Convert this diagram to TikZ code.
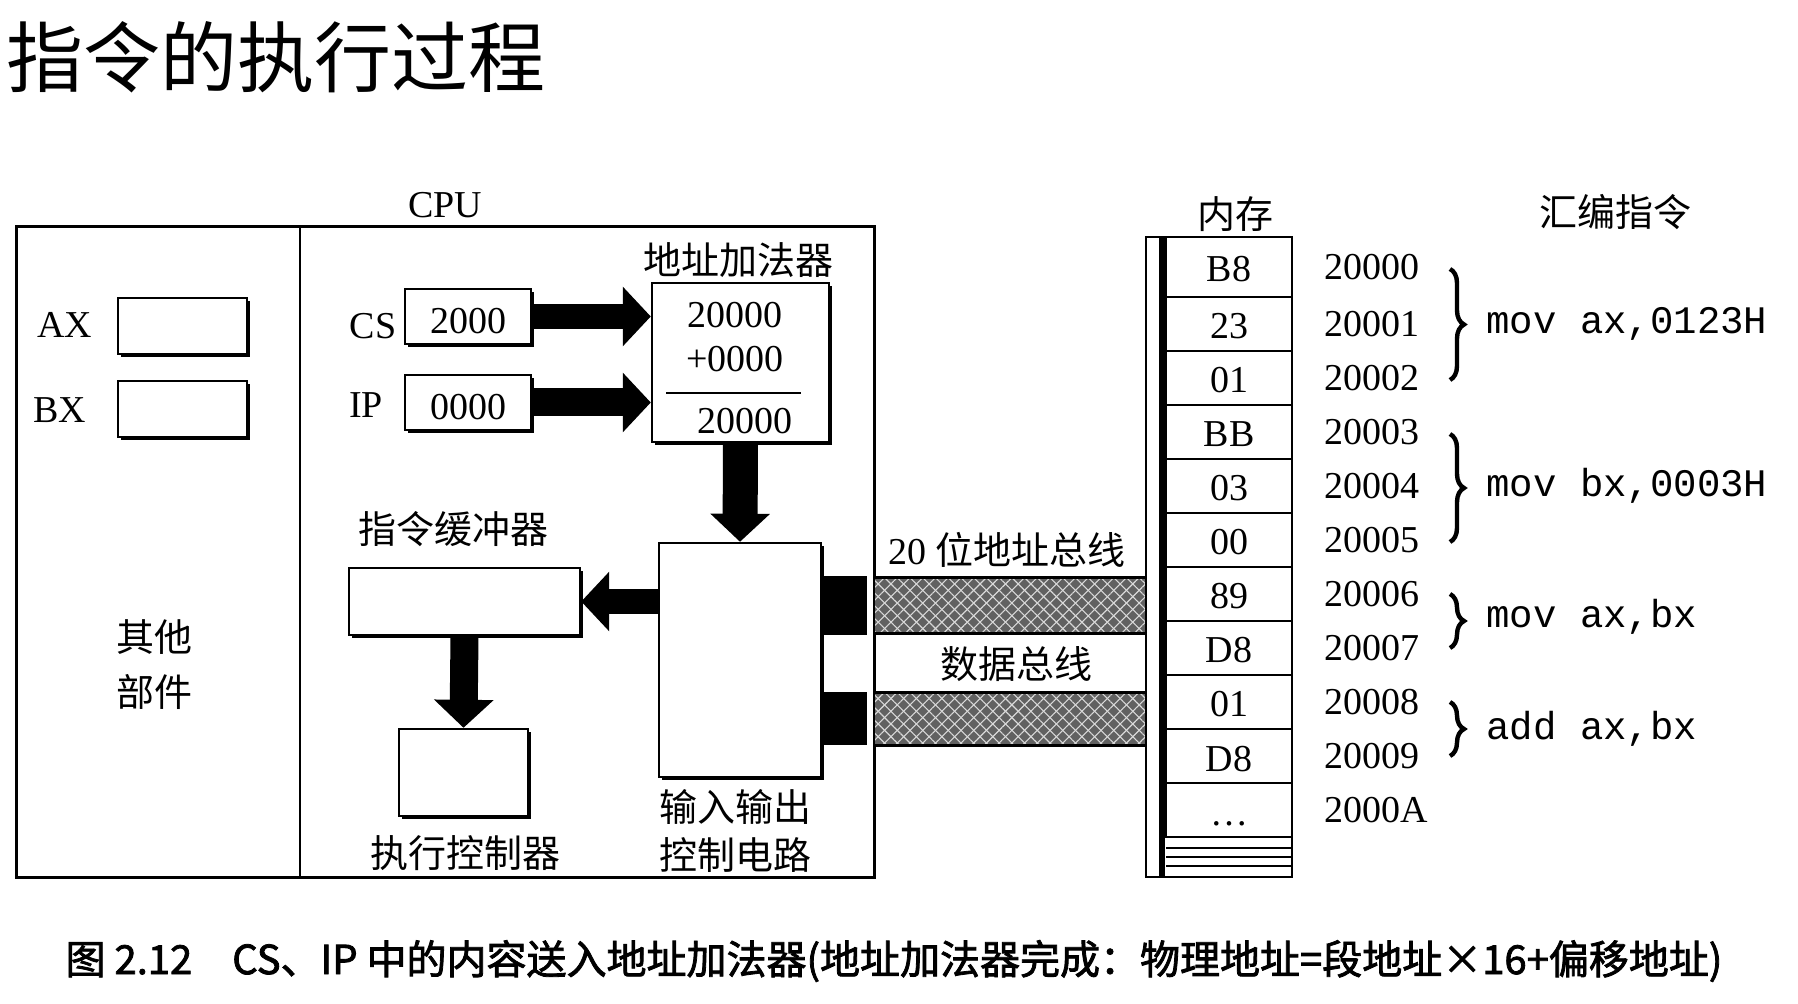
\documentclass[tikz,border=0pt]{standalone}
\usepackage{fontspec}
\setmainfont{Liberation Serif}
\newfontfamily\cjk{Noto Sans CJK SC}
\newfontfamily\monof{Liberation Mono}
\newfontfamily\capf{Noto Sans CJK SC}[FakeBold=2]
\usetikzlibrary{arrows.meta,shadows,patterns.meta,decorations.pathreplacing,calc}
\begin{document}
\begin{tikzpicture}[x=0.5pt,y=-0.5pt,
  lat/.style={font=\fontsize{19}{22}\selectfont},
  cn/.style={font=\cjk\fontsize{19}{22}\selectfont},
  mono/.style={font=\monof\fontsize{19.5}{22}\selectfont},
  regbox/.style={draw,line width=1.2pt,fill=white,inner sep=0pt,
    drop shadow={opacity=1,fill=black,shadow xshift=1.3pt,shadow yshift=-1.3pt}},
  lowtext/.style={text height=17pt,text depth=0pt},
  blackblk/.style={fill=black,inner sep=0pt,minimum width=21.5pt},
  busbar/.style={fill=black!62,inner sep=0pt,minimum width=136pt,
    postaction={pattern={Lines[angle=45,distance=4.5pt,line width=0.55pt]},pattern color=white!85!black},
    postaction={pattern={Lines[angle=-45,distance=4.5pt,line width=0.55pt]},pattern color=white!85!black}},
  cell/.style={draw,line width=1.2pt,inner sep=0pt,minimum width=63pt,lat,text height=15pt,text depth=0pt},
  bigarrow/.style={line width=#1,-{Triangle[length=14pt,width=29pt]}},
  brc/.style={line width=2.2pt,decorate,decoration={brace,amplitude=7pt}}
]
\useasboundingbox (0,0) rectangle (1798,1004);

% title
\node[font=\cjk\fontsize{38.5}{44}\selectfont,anchor=west,inner sep=0pt] (title) at (6,57) {指令的执行过程};

% CPU
\node[draw,line width=1.5pt,minimum width=429pt,minimum height=325pt,inner sep=0pt,
  drop shadow={opacity=1,fill=black,shadow xshift=1pt,shadow yshift=-1pt},fill=white] (cpu) at (445,552) {};
\node[lat] (cpulbl) at (445,205) {CPU};
\coordinate (dv) at (300,0);
\draw[line width=1.2pt] (dv |- cpu.north) -- (dv |- cpu.south);

% registers AX BX
\node[regbox,minimum width=64.5pt,minimum height=28pt] (ax) at (182.5,326) {};
\node[regbox,minimum width=64.5pt,minimum height=28pt] (bx) at (182.5,409) {};
\node[lat] (axl) at (64.5,325) {AX};
\node[lat] (bxl) at (60,410) {BX};
\node[cn] (qt1) at (154,637) {其他};
\node[cn] (qt2) at (154,692) {部件};

% CS IP
\node[regbox,lat,lowtext,minimum width=63pt,minimum height=27.5pt] (cs) at (468,316.5) {2000};
\node[regbox,lat,lowtext,minimum width=63pt,minimum height=27.5pt] (ip) at (468,402.5) {0000};
\node[lat] (csl) at (373,326) {CS};
\node[lat] (ipl) at (366,405) {IP};

% adder
\node[regbox,minimum width=88.5pt,minimum height=79.5pt] (add) at (740.5,362.5) {};
\node[cn] (addl) at (738,260) {地址加法器};
\node[lat] (s1) at (735,315) {20000};
\node[lat] (s2) at (735,359) {+0000};
\node[lat] (s3) at (745,421) {20000};
\draw[line width=1pt] (666,393) -- (801,393);

% IO
\node[regbox,minimum width=81pt,minimum height=117pt] (io) at (740,660) {};
\node[cn] (iol1) at (735,807) {输入输出};
\node[cn] (iol2) at (735,855) {控制电路};

% buffer, exec
\node[regbox,minimum width=115.5pt,minimum height=33.5pt] (buf) at (464.5,601.5) {};
\node[cn] (bufl) at (453,529) {指令缓冲器};
\node[regbox,minimum width=64.5pt,minimum height=43.5pt] (exe) at (463.5,772.5) {};
\node[cn] (exel) at (465,853) {执行控制器};

% block arrows
\draw[bigarrow=12.5pt] (cs.east) -- (cs.east -| add.west);
\draw[bigarrow=14pt] (ip.east) -- (ip.east -| add.west);
\draw[bigarrow=17.5pt] (add.south) -- (io.north);
\draw[bigarrow=12.5pt] (io.west |- buf.east) -- (buf.east);
\draw[bigarrow=14pt] (buf.south) -- (exe.north);

% black connectors
\node[blackblk,minimum height=29.5pt] (blk1) at (845.5,605.5) {};
\node[blackblk,minimum height=26.5pt] (blk2) at (845.5,718.5) {};

% buses
\node[busbar,minimum height=27.5pt] (abus) at (1011,605.5) {};
\node[busbar,minimum height=26pt] (dbus) at (1011,719) {};
\draw[line width=1.5pt] (abus.north west) -- (abus.north east) (abus.south west) -- (abus.south east);
\draw[line width=1.5pt] (dbus.north west) -- (dbus.north east) (dbus.south west) -- (dbus.south east);
\node[font=\fontsize{19}{22}\selectfont] (abl) at (1007,550) {20 {\cjk 位地址总线}};
\node[cn] (dbl) at (1016,664) {数据总线};

% memory
\node[draw,line width=1pt,inner sep=0pt,minimum width=73pt,minimum height=320pt] (mem) at (1219,557) {};
\draw[line width=3pt] (1162,237) -- (1162,877);
\node[cn] (meml) at (1235,214) {内存};
\node[cn] (asml) at (1615,212) {汇编指令};
\foreach \t/\yy/\h [count=\i from 0] in {B8/267/30,23/324/27,01/378/27,BB/432/27,03/486/27,00/540/27,89/594/27,D8/648/27,01/702/27,D8/756/27,{…}/810/27}
  \node[cell,minimum height=\h pt] (m\i) at (1229,\yy) {\t};
\draw[line width=1pt] (1166,848) -- (1292,848);
\draw[line width=1pt] (1166,857) -- (1292,857);
\draw[line width=1pt] (1166,866) -- (1292,866);
\draw[line width=1.2pt] (1166,877) -- (1292,877);

% addresses
\foreach \t [count=\i from 0] in {20000,20001,20002,20003,20004,20005,20006,20007,20008,20009,2000A}
  \node[lat,anchor=west,inner sep=0pt] (a\i) at ([xshift=15.5pt]m\i.east) {\t};

% braces
\coordinate (bx0) at (1450,0);
\coordinate (tx) at (1486,0);
\draw[brc] ([yshift=-1pt]bx0 |- a0) -- ([yshift=-1pt]bx0 |- a2);
\draw[brc] ([yshift=-1pt]bx0 |- a3) -- ([yshift=-1pt]bx0 |- a5);
\draw[brc] ([yshift=0pt]bx0 |- a6) -- ([yshift=0pt]bx0 |- a7);
\draw[brc] ([yshift=0pt]bx0 |- a8) -- ([yshift=0pt]bx0 |- a9);
\coordinate (c67) at ($(a6)!.5!(a7)$);
\coordinate (c89) at ($(a8)!.5!(a9)$);
\node[mono,anchor=west,inner sep=0pt] (i1) at (tx |- a1) {mov ax,0123H};
\node[mono,anchor=west,inner sep=0pt] (i2) at (tx |- a4) {mov bx,0003H};
\node[mono,anchor=west,inner sep=0pt] (i3) at ([yshift=2pt]tx |- c67) {mov ax,bx};
\node[mono,anchor=west,inner sep=0pt] (i4) at (tx |- c89) {add ax,bx};

% caption
\node[font=\capf\fontsize{20}{24}\selectfont] (cap) at (894,961) {图 2.12\quad CS、IP 中的内容送入地址加法器(地址加法器完成：物理地址=段地址×16+偏移地址)};
\end{tikzpicture}
\end{document}
